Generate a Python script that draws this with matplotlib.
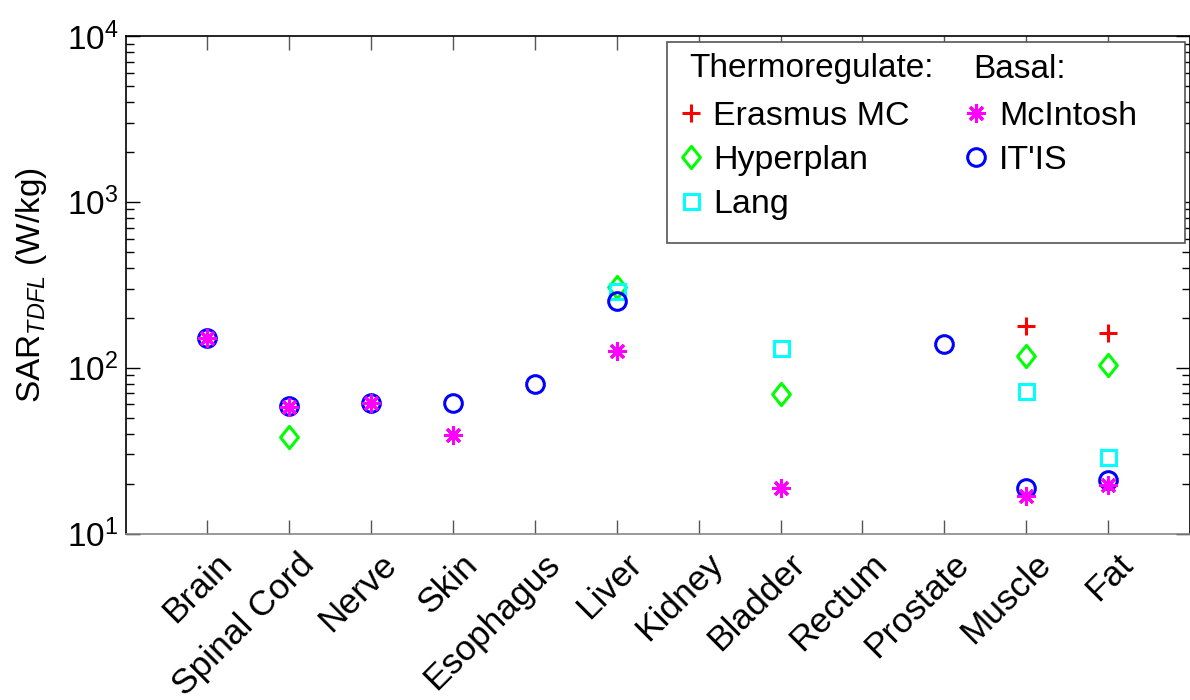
import matplotlib
matplotlib.use("Agg")
import matplotlib.pyplot as plt
from matplotlib.lines import Line2D
from matplotlib.patches import Rectangle
from matplotlib.path import Path
from matplotlib.transforms import ScaledTranslation
import numpy as np

plt.rcParams['font.family'] = ['Liberation Sans', 'DejaVu Sans']
plt.rcParams['mathtext.fontset'] = 'custom'
plt.rcParams['mathtext.rm'] = 'Liberation Sans'
plt.rcParams['mathtext.it'] = 'Liberation Sans:italic'

categories = ['Brain', 'Spinal Cord', 'Nerve', 'Skin', 'Esophagus', 'Liver',
              'Kidney', 'Bladder', 'Rectum', 'Prostate', 'Muscle', 'Fat']
nan = np.nan
erasmus   = [nan, nan, nan, nan, nan, nan, nan, nan, nan, nan, 179, 162]
hyperplan = [nan, 38, nan, nan, nan, 308, nan, 69, nan, nan, 118, 104]
lang      = [nan, nan, nan, nan, nan, 291, nan, 132, nan, nan, 72.6, 29]
itis      = [150, 59, 61.5, 61, 80, 253, nan, nan, nan, 138, 18.7, 21.1]
mcintosh  = [150, 58, 61, 39, nan, 126, nan, 18.7, nan, nan, 16.9, 19.7]

W, H = 1190, 700
fig = plt.figure(figsize=(W/100, H/100), dpi=100)
L, R, T, B = 125.5, 1190, 36, 533.5
ax = fig.add_axes([L/W, 1-B/H, (R-L)/W, (B-T)/H])

diamond = Path([(0, 1), (0.8, 0), (0, -1), (-0.8, 0), (0, 1)],
               [Path.MOVETO, Path.LINETO, Path.LINETO, Path.LINETO, Path.CLOSEPOLY])

mew = 2.2
st_e = dict(ls='none', marker='+', color='#ff0000', ms=13.5, mew=mew)
st_h = dict(ls='none', marker=diamond, color='#00ff00', mfc='none', ms=16, mew=mew)
st_l = dict(ls='none', marker='s', color='#00ffff', mfc='none', ms=10.8, mew=mew)
st_i = dict(ls='none', marker='o', color='#0000ff', mfc='none', ms=12.7, mew=mew)
st_m = dict(ls='none', marker=(8, 2, 0), color='#ff00ff', ms=13, mew=mew)

x = np.arange(1, len(categories)+1)
ax.plot(x, erasmus, **st_e)
ax.plot(x, hyperplan, **st_h)
ax.plot(x, lang, **st_l)
ax.plot(x, itis, **st_i)
ax.plot(x, mcintosh, **st_m)

ax.set_yscale('log')
ax.set_ylim(10, 1e4)
ax.set_xlim(0, 13)
ax.set_xticks(x)
ax.set_xticklabels([''] * len(categories))
off = ScaledTranslation(8/100, -14/100, fig.dpi_scale_trans)
for xi, name in zip(x, categories):
    ax.text(xi, 0, name, transform=ax.get_xaxis_transform() + off,
            rotation=45, rotation_mode='anchor', ha='right', va='top',
            fontsize=25.5)

ax.tick_params(axis='both', which='both', direction='in', top=True, right=True,
               width=1.0)
ax.tick_params(axis='both', which='major', length=10)
ax.tick_params(axis='y', which='major', labelsize=24, pad=5)
ax.tick_params(axis='y', which='minor', length=6)
ax.tick_params(axis='x', colors='#555555')
for s in ax.spines.values():
    s.set_linewidth(1.2)
    s.set_color('black')
ax.spines['bottom'].set_color('#888888')
ax.set_ylabel(r'SAR$_{\mathit{TDFL}}$ (W/kg)', fontsize=24, labelpad=13)

# legend
blank = Line2D([], [], ls='none', marker='none')
handles = [blank, Line2D([], [], **st_e), Line2D([], [], **st_h), Line2D([], [], **st_l),
           blank, Line2D([], [], **st_m), Line2D([], [], **st_i), blank]
labels = ['', 'Erasmus MC', 'Hyperplan', 'Lang', '', 'McIntosh', "IT'IS", '']
lx = (677 - L) / (R - L)
ly = (B - 57) / (B - T)
leg = ax.legend(handles, labels, ncol=2, loc='upper left',
                bbox_to_anchor=(lx, ly), fontsize=24.5, frameon=False,
                handlelength=0.8, handletextpad=0.27, labelspacing=0.38,
                columnspacing=1.55, borderpad=0, borderaxespad=0)
fx0, fx1 = (667 - L) / (R - L), (1185 - L) / (R - L)
fy0, fy1 = (B - 243) / (B - T), (B - 42) / (B - T)
ax.add_patch(Rectangle((fx0, fy0), fx1 - fx0, fy1 - fy0, transform=ax.transAxes,
                       facecolor='white', edgecolor='#555555', lw=1.2, zorder=4))
leg.set_zorder(5)
fig.text(689/W, 1-69/H, 'Thermoregulate:', fontsize=24, ha='left', va='center', zorder=6)
fig.text(973/W, 1-69/H, 'Basal:', fontsize=24, ha='left', va='center', zorder=6)

fig.savefig('out.png', dpi=100)
